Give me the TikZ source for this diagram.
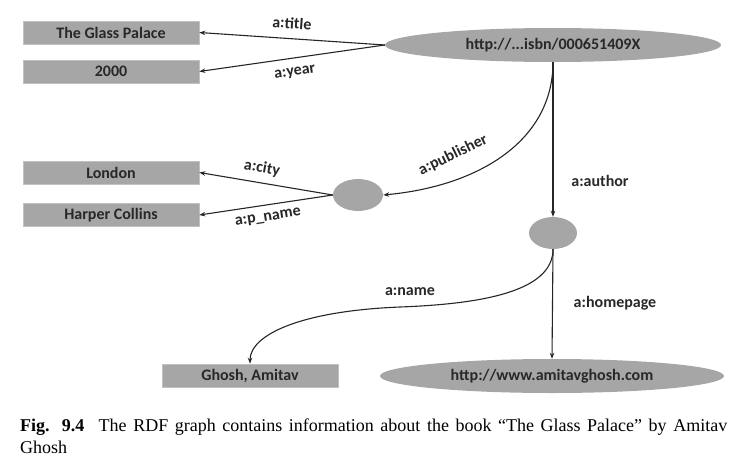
\documentclass[tikz,border=0pt]{standalone}
\usepackage{fontspec}
\setmainfont{Liberation Serif}
\newfontfamily\lblfont{Carlito}
\usetikzlibrary{shapes.geometric,arrows.meta}
\definecolor{boxgray}{RGB}{166,166,166}
\definecolor{txtgray}{RGB}{40,40,40}
\tikzset{
  lit/.style={rectangle,fill=boxgray,draw=boxgray!70,line width=0.6pt,minimum width=176pt,minimum height=23pt,inner sep=0pt,font=\lblfont\bfseries\fontsize{16}{16}\selectfont,text=txtgray},
  res/.style={ellipse,fill=boxgray,draw=none,inner sep=0pt,font=\lblfont\bfseries\fontsize{16}{16}\selectfont,text=txtgray},
  arr/.style={-{Stealth[length=6pt,width=4.5pt]},line width=1.1pt,draw=black!85},
  lbl/.style={inner sep=0pt,font=\lblfont\bfseries\fontsize{16}{16}\selectfont,text=txtgray},
  captext/.style={inner sep=0pt,anchor=base west,font=\fontsize{18}{22}\selectfont}
}
\begin{document}
\begin{tikzpicture}[x=1pt,y=-1pt]
\useasboundingbox (0,0) rectangle (751,466);
% literal boxes
\node[lit] (title) at (111,32.5) {The Glass Palace};
\node[lit] (year) at (111,71.5) {2000};
\node[lit] (london) at (111,172.5) {London};
\node[lit] (harper) at (111,215) {Harper Collins};
\node[lit] (ghosh) at (250,375.5) {Ghosh, Amitav};
% resources
\node[res,minimum width=336pt,minimum height=34pt] (book) at (553,45) {http://...isbn/000651409X};
\node[res,minimum width=50pt,minimum height=32pt] (pub) at (358,195) {};
\node[res,minimum width=48pt,minimum height=32pt] (auth) at (553,233) {};
\node[res,minimum width=344pt,minimum height=34pt] (home) at (552,376) {http://www.amitavghosh.com};
% edges
\draw[arr] (book.west) -- (title.east);
\draw[arr] (book.west) -- (year.east);
\draw[arr] (pub.west) -- (london.east);
\draw[arr] (pub.west) -- (harper.east);
\draw[arr] (book.south) .. controls (553,140) and (480,186) .. (pub.east);
\draw[arr] (book.south) -- (auth.north);
\draw[arr] (auth.south) .. controls (553,292) and (480,304) .. (400,307) .. controls (300,311) and (250,335) .. (ghosh.north);
\draw[arr] (auth.south) -- (home.north);
% labels
\node[lbl,rotate=-4] (ltitle) at (292,23) {a:title};
\node[lbl,rotate=8] (lyear) at (295,73) {a:year};
\node[lbl,rotate=-10] (lcity) at (262,168) {a:city};
\node[lbl,rotate=9] (lpname) at (268,218) {a:p\_name};
\node[lbl,rotate=26] (lpub) at (453,155) {a:publisher};
\node[lbl] (lauth) at (600,181) {a:author};
\node[lbl] (lname) at (410,292) {a:name};
\node[lbl] (lhome) at (615,303) {a:homepage};
% caption
\node[captext] (cap1) at (20,431) {\makebox[707pt][s]{\textbf{Fig. 9.4}\hspace{0.8em}The RDF graph contains information about the book “The Glass Palace” by Amitav}};
\node[captext] (cap2) at (20,453) {Ghosh};
\end{tikzpicture}
\end{document}
